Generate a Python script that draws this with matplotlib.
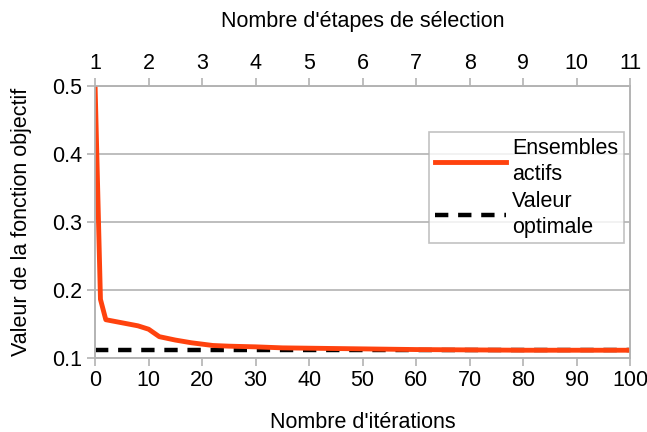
import matplotlib
matplotlib.use('Agg')
import matplotlib.pyplot as plt

plt.rcParams['font.family'] = ['Liberation Sans', 'DejaVu Sans']
plt.rcParams['font.size'] = 15.5

# values
iterations = [0, 1, 2, 4, 6, 8, 10, 12, 15, 18, 20, 22, 25, 30, 35, 40, 50, 60, 70, 80, 90, 100]
objective = [0.5, 0.186, 0.156, 0.153, 0.150, 0.147, 0.142, 0.131, 0.126, 0.122, 0.120, 0.118, 0.117, 0.116, 0.1145, 0.114, 0.113, 0.112, 0.1115, 0.111, 0.111, 0.111]
optimal_value = 0.111
selection_steps = list(range(1, 12))

grid_col = '#b3b3b3'

fig, ax = plt.subplots(figsize=(6.47, 4.32), dpi=100)
fig.subplots_adjust(left=0.147, right=0.974, bottom=0.172, top=0.8)

ax.plot(iterations, objective, color='#ff420e', linewidth=3.5, label='Ensembles\nactifs', zorder=3)
ax.plot([0, 100], [optimal_value, optimal_value], color='black', linewidth=3.2,
        linestyle=(0, (3, 2.2)), label='Valeur\noptimale', zorder=2)

ax.set_xlim(0, 100)
ax.set_ylim(0.1, 0.5)
ax.set_xticks(range(0, 101, 10))
ax.set_yticks([0.1, 0.2, 0.3, 0.4, 0.5])
ax.set_yticklabels(['0.1', '0.2', '0.3', '0.4', '0.5'])
ax.yaxis.grid(True, color=grid_col, linewidth=1.2)
ax.set_axisbelow(True)
for s in ax.spines.values():
    s.set_color(grid_col)
    s.set_linewidth(1.2)
ax.tick_params(color=grid_col, width=1.2, length=6, pad=3)
ax.set_xlabel("Nombre d'itérations", labelpad=15)
ax.set_ylabel('Valeur de la fonction objectif', labelpad=15)

top = ax.twiny()
top.set_xlim(1, 11)
top.set_xticks(selection_steps)
top.tick_params(color=grid_col, width=1.2, length=6, pad=3)
for s in top.spines.values():
    s.set_color(grid_col)
    s.set_linewidth(1.2)
top.set_xlabel("Nombre d'étapes de sélection", labelpad=19)

leg = ax.legend(loc='upper right', bbox_to_anchor=(1.008, 0.87), frameon=True, fancybox=False,
                edgecolor=grid_col, handlelength=3.3, handletextpad=0.3, borderpad=0.25,
                labelspacing=0.3)
leg.get_frame().set_linewidth(1.2)
for t in leg.get_texts():
    t.set_linespacing(1.3)

plt.savefig('out.png', dpi=100)
